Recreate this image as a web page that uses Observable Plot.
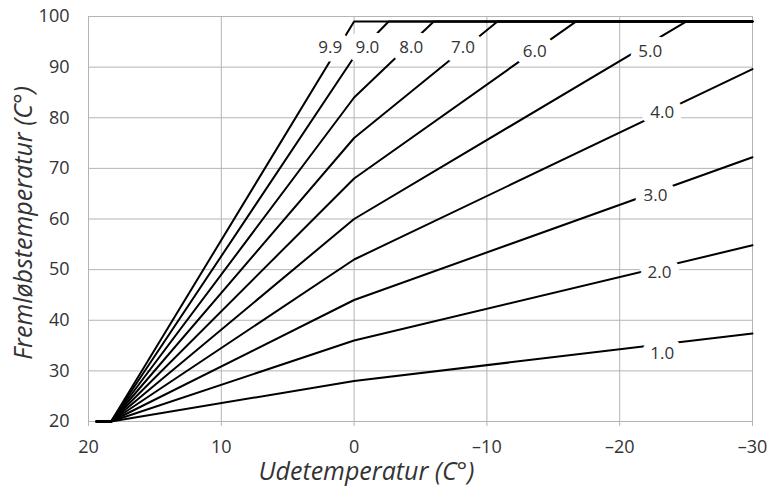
<!DOCTYPE html>
<html>
<head>
<meta charset="utf-8">
<script src="https://cdn.jsdelivr.net/npm/d3@7"></script>
<script src="https://cdn.jsdelivr.net/npm/@observablehq/plot@0.6"></script>
<style>
  html, body { margin: 0; padding: 0; background: #fff; }
  #chart { width: 772px; height: 488px; }
</style>
</head>
<body>
<div id="chart"></div>
<script>
// Heating curve names
const curveNames = ["1.0", "2.0", "3.0", "4.0", "5.0", "6.0", "7.0", "8.0", "9.0", "9.9"];
// Outdoor temperature where curves begin (flat at 20) and where they start rising
const flatStartX = 19.4;
const riseStartX = 18.3;
const baseY = 20;
// Flow temperature at 0 °C outdoor
const yAtZero = [28, 36, 44, 52, 60, 68, 76, 84, 92, 99];
// Point where each curve stops rising (either at -30 or at the 99 °C limit)
const endX = [-30, -30, -30, -30, -25, -16.7, -10.8, -6.0, -2.6, 0];
const endY = [37.4, 54.8, 72.2, 89.6, 99, 99, 99, 99, 99, 99];
const capY = 99;
const lastX = -30;
// Label positions
const labelX = [-23.2, -23.0, -22.7, -23.2, -22.3, -13.6, -8.2, -4.3, -1.0, 1.8];
const labelY = [33.4, 49.4, 64.6, 81.0, 93.1, 93.1, 93.8, 93.8, 93.8, 93.8];
// Axis ticks
const xTicks = [20, 10, 0, -10, -20, -30];
const xTickLabels = ["20", "10", "0", "–10", "–20", "–30"];
const yTicks = [20, 30, 40, 50, 60, 70, 80, 90, 100];
const xTitle = "Udetemperatur (C°)";
const yTitle = "Fremløbstemperatur (C°)";

const rows = [];
curveNames.forEach((name, i) => {
  rows.push({curve: name, x: flatStartX, y: baseY});
  rows.push({curve: name, x: riseStartX, y: baseY});
  if (endX[i] < 0) rows.push({curve: name, x: 0, y: yAtZero[i]});
  rows.push({curve: name, x: endX[i], y: endY[i]});
  if (endX[i] > lastX) rows.push({curve: name, x: lastX, y: capY});
});
const labels = curveNames.map((name, i) => ({name, x: labelX[i], y: labelY[i]}));

const grid = "#b4b4b4";
const chart = Plot.plot({
  width: 772,
  height: 488,
  marginLeft: 88,
  marginRight: 20,
  marginTop: 16,
  marginBottom: 67,
  style: {fontFamily: "'Open Sans', sans-serif", fontSize: "18px", color: "#333", background: "#fff"},
  x: {domain: [20, -30]},
  y: {domain: [20, 100]},
  marks: [
    Plot.gridX(xTicks, {stroke: grid, strokeOpacity: 1, strokeWidth: 1}),
    Plot.gridY(yTicks, {stroke: grid, strokeOpacity: 1, strokeWidth: 1}),
    Plot.axisX(xTicks, {tickSize: 5, stroke: grid, tickPadding: 14, label: null,
      tickFormat: (d) => xTickLabels[xTicks.indexOf(d)], fontSize: 18, fill: "#333"}),
    Plot.axisY(yTicks, {tickSize: 0, tickPadding: 19, label: null, fontSize: 18, fill: "#333"}),
    Plot.line(rows, {x: "x", y: "y", z: "curve", stroke: "#000", strokeWidth: 2}),
    Plot.text(labels, {x: "x", y: "y", text: "name", fill: "#333", fontSize: 17,
      stroke: "white", strokeWidth: 17, strokeLinejoin: "round", paintOrder: "stroke"}),
    Plot.text([xTitle], {frameAnchor: "bottom", textAnchor: "middle", dx: -54, dy: 58, fontStyle: "italic", fontSize: 25, fill: "#333"}),
    Plot.text([yTitle], {frameAnchor: "left", textAnchor: "middle", rotate: -90, dx: -65, dy: 4, fontStyle: "italic", fontSize: 25, fill: "#333"})
  ]
});
document.getElementById("chart").appendChild(chart);
</script>
</body>
</html>
